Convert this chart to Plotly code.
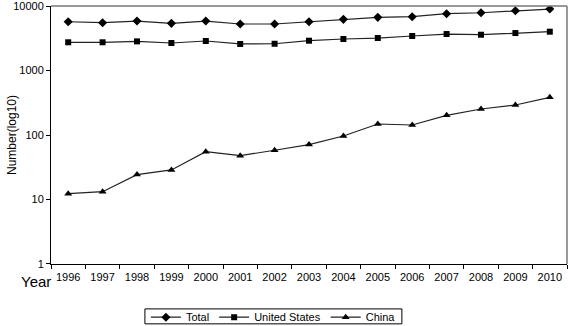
import plotly.graph_objects as go

years = ["1996", "1997", "1998", "1999", "2000", "2001", "2002", "2003",
         "2004", "2005", "2006", "2007", "2008", "2009", "2010"]
total = [5710, 5510, 5850, 5390, 5850, 5260, 5260, 5700, 6210, 6670, 6830, 7600, 7870, 8450, 8980]
united_states = [2740, 2740, 2830, 2670, 2870, 2580, 2600, 2900, 3080, 3190, 3430, 3680, 3590, 3810, 4000]
china = [12.3, 13.2, 24.3, 28.7, 55, 47.8, 58, 71, 96.5, 148, 143, 202, 253, 292, 384]

y_ticks = [1, 10, 100, 1000, 10000]
y_ticktext = ["1", "10", "100", "1000", "10000"]

FONT = "Liberation Sans, Arial, sans-serif"

fig = go.Figure()
series = [
    ("Total", total, "diamond", 7),
    ("United States", united_states, "square", 6),
    ("China", china, "triangle-up", 7),
]
for name, vals, sym, sz in series:
    fig.add_trace(go.Scatter(
        x=years, y=vals, name=name, mode="lines+markers",
        line=dict(color="#222222", width=1.2),
        marker=dict(symbol=sym, size=sz, color="#000000"),
    ))

fig.update_layout(
    width=568, height=326,
    margin=dict(l=51, r=1, t=6, b=62, autoexpand=False),
    paper_bgcolor="white", plot_bgcolor="white",
    font=dict(family=FONT, size=11, color="#000000"),
    showlegend=True,
    legend=dict(
        orientation="h", x=0.431, xanchor="center", y=-0.15, yanchor="top",
        borderwidth=0, bgcolor="rgba(0,0,0,0)", font=dict(size=11),
        tracegroupgap=0,
    ),
    xaxis=dict(
        type="category", range=[-0.5, 14.5], tickson="boundaries", showgrid=False,
        showline=True, linecolor="#000000", linewidth=1,
        ticks="outside", ticklen=4, tickcolor="#000000",
        tickfont=dict(size=11), zeroline=False, tickangle=0,
        automargin=False, ticklabeloverflow="allow", ticklabelstandoff=3,
    ),
    yaxis=dict(
        type="log", range=[-0.0005, 4.0005], tickvals=y_ticks, ticktext=y_ticktext,
        showgrid=False, showline=True, linecolor="#000000", linewidth=1,
        ticks="outside", ticklen=4, tickcolor="#000000",
        tickfont=dict(size=11), zeroline=False, automargin=False,
        ticklabeloverflow="allow",
    ),
    shapes=[
        dict(type="line", xref="paper", yref="paper", x0=0, x1=1, y0=1, y1=1,
             line=dict(color="#777777", width=1.5)),
        dict(type="line", xref="paper", yref="paper", x0=1, x1=1, y0=0, y1=1,
             line=dict(color="#777777", width=1.5)),
        dict(type="rect", xref="paper", yref="paper", x0=0.182, x1=0.680,
             y0=-0.174, y1=-0.232, line=dict(color="#000000", width=1)),
    ],
    annotations=[
        dict(text="Year", xref="paper", yref="paper", x=0.004, y=-0.027,
             xanchor="right", yanchor="top", showarrow=False,
             font=dict(size=15, family=FONT)),
        dict(text="Number(log10)", xref="paper", yref="paper", x=-0.093, y=0.5,
             xanchor="left", yanchor="middle", textangle=-90, showarrow=False,
             font=dict(size=12, family=FONT)),
    ],
)

fig.write_html("out.html", config={"displayModeBar": False},
               post_script="document.body.style.margin='0px';")
